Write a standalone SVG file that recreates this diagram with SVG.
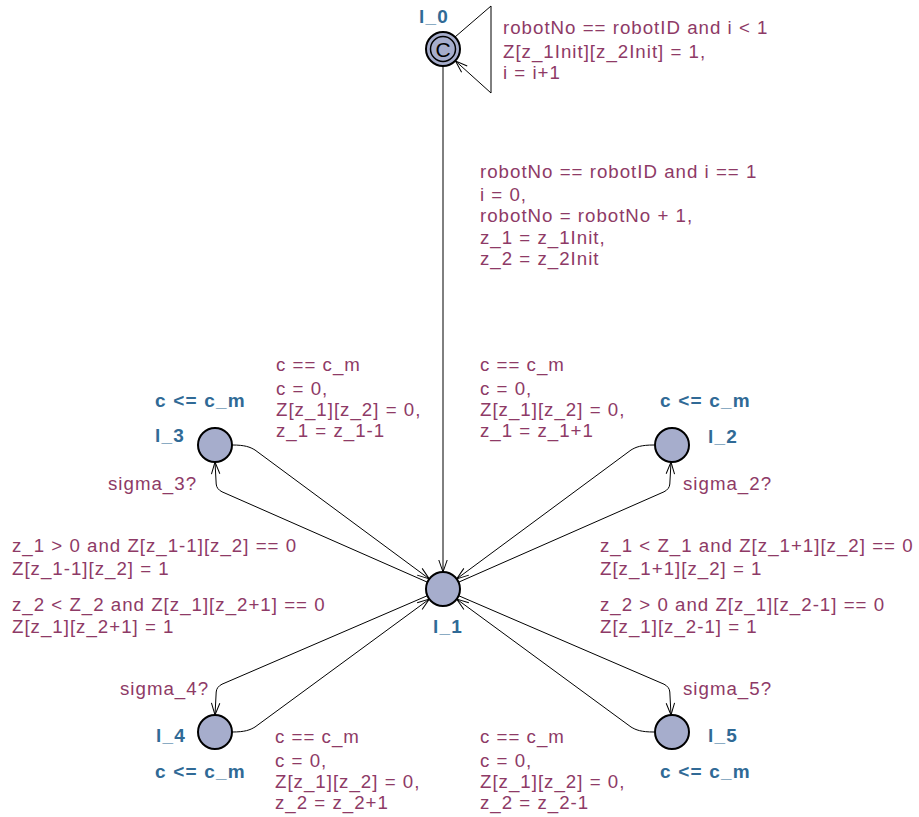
<svg xmlns="http://www.w3.org/2000/svg" width="919" height="817" viewBox="0 0 919 817">
<style>
.loc{fill:#a6adcc;stroke:#000;stroke-width:2}
.e{fill:none;stroke:#000;stroke-width:1}
.lbl{font-family:"Liberation Sans",Arial,sans-serif;font-size:18.7px;letter-spacing:1px;fill:#8e3a66}
.nm{font-family:"Liberation Sans",Arial,sans-serif;font-size:19px;font-weight:bold;letter-spacing:1.2px;fill:#306a96}
</style>
<defs>
<marker id="arr" viewBox="-13 -6 14 12" refX="0" refY="0" markerWidth="14" markerHeight="12" markerUnits="userSpaceOnUse" orient="auto">
<path d="M-12,-4.2 L0,0 L-12,4.2" fill="none" stroke="#000" stroke-width="1"/>
</marker>
</defs>
<rect width="919" height="817" fill="#fff"/>
<g id="connectors">
<path class="e" d="M455,37 L491,6 L491,93 L455.5,61" marker-end="url(#arr)"/>
<path class="e" d="M443,66 L443,572" marker-end="url(#arr)"/>
<path class="e" d="M232,445 C245,445 250,447 255,450 L429.3,578.9" marker-end="url(#arr)"/>
<path class="e" d="M427.4,582.2 L222,491.8 Q216.5,489 216.2,484 L215,462" marker-end="url(#arr)"/>
<path class="e" d="M654,445 C641,445 636,447 631,450 L456.7,578.9" marker-end="url(#arr)"/>
<path class="e" d="M458.6,582.2 L664,491.8 Q669.5,489 669.8,484 L671,462" marker-end="url(#arr)"/>
<path class="e" d="M232,732 C245,732 250,730 255,727 L429.3,599.1" marker-end="url(#arr)"/>
<path class="e" d="M427.4,595.7 L222,684.2 Q216.5,687 216.2,692 L215,715" marker-end="url(#arr)"/>
<path class="e" d="M654,732 C641,732 636,730 631,727 L456.7,599.1" marker-end="url(#arr)"/>
<path class="e" d="M458.6,595.7 L664,684.2 Q669.5,687 669.8,692 L671,715" marker-end="url(#arr)"/>
</g>
<g id="edge-labels">
<text class="lbl" x="503" y="34">robotNo == robotID and i &lt; 1</text>
<text class="lbl" x="503" y="58">Z[z_1Init][z_2Init] = 1,</text>
<text class="lbl" x="503" y="79">i = i+1</text>
<text class="lbl" x="480" y="178">robotNo == robotID and i == 1</text>
<text class="lbl" x="480" y="201">i = 0,</text>
<text class="lbl" x="480" y="222">robotNo = robotNo + 1,</text>
<text class="lbl" x="480" y="244">z_1 = z_1Init,</text>
<text class="lbl" x="480" y="265">z_2 = z_2Init</text>
<text class="lbl" x="276" y="371">c == c_m</text>
<text class="lbl" x="276" y="395">c = 0,</text>
<text class="lbl" x="276" y="416">Z[z_1][z_2] = 0,</text>
<text class="lbl" x="276" y="437">z_1 = z_1-1</text>
<text class="lbl" x="480" y="371">c == c_m</text>
<text class="lbl" x="480" y="395">c = 0,</text>
<text class="lbl" x="480" y="416">Z[z_1][z_2] = 0,</text>
<text class="lbl" x="480" y="437">z_1 = z_1+1</text>
<text class="lbl" x="108" y="490">sigma_3?</text>
<text class="lbl" x="683" y="490">sigma_2?</text>
<text class="lbl" x="12" y="552">z_1 &gt; 0 and Z[z_1-1][z_2] == 0</text>
<text class="lbl" x="12" y="575">Z[z_1-1][z_2] = 1</text>
<text class="lbl" x="12" y="611">z_2 &lt; Z_2 and Z[z_1][z_2+1] == 0</text>
<text class="lbl" x="12" y="633">Z[z_1][z_2+1] = 1</text>
<text class="lbl" x="600" y="552">z_1 &lt; Z_1 and Z[z_1+1][z_2] == 0</text>
<text class="lbl" x="600" y="575">Z[z_1+1][z_2] = 1</text>
<text class="lbl" x="600" y="611">z_2 &gt; 0 and Z[z_1][z_2-1] == 0</text>
<text class="lbl" x="600" y="633">Z[z_1][z_2-1] = 1</text>
<text class="lbl" x="120" y="695">sigma_4?</text>
<text class="lbl" x="683" y="695">sigma_5?</text>
<text class="lbl" x="275" y="743">c == c_m</text>
<text class="lbl" x="275" y="767">c = 0,</text>
<text class="lbl" x="275" y="788">Z[z_1][z_2] = 0,</text>
<text class="lbl" x="275" y="809">z_2 = z_2+1</text>
<text class="lbl" x="480" y="743">c == c_m</text>
<text class="lbl" x="480" y="767">c = 0,</text>
<text class="lbl" x="480" y="788">Z[z_1][z_2] = 0,</text>
<text class="lbl" x="480" y="809">z_2 = z_2-1</text>
</g>
<g id="l_0">
<circle class="loc" cx="443" cy="49" r="17"/>
<circle cx="443" cy="49" r="12.5" fill="none" stroke="#000" stroke-width="1.5"/>
<text x="443" y="56.5" text-anchor="middle" font-family="Liberation Sans,Arial,sans-serif" font-size="21" fill="#000">C</text>
<text class="nm" x="419" y="23">l_0</text>
</g>
<g id="l_1">
<circle class="loc" cx="443" cy="589" r="17"/>
<text class="nm" x="433" y="633">l_1</text>
</g>
<g id="l_2">
<circle class="loc" cx="672" cy="445" r="17"/>
<text class="nm" x="708" y="443">l_2</text>
<text class="nm" x="660" y="407">c &lt;= c_m</text>
</g>
<g id="l_3">
<circle class="loc" cx="215" cy="445" r="17"/>
<text class="nm" x="155" y="442">l_3</text>
<text class="nm" x="155" y="407">c &lt;= c_m</text>
</g>
<g id="l_4">
<circle class="loc" cx="215" cy="732" r="17"/>
<text class="nm" x="156" y="742">l_4</text>
<text class="nm" x="155" y="778">c &lt;= c_m</text>
</g>
<g id="l_5">
<circle class="loc" cx="672" cy="732" r="17"/>
<text class="nm" x="708" y="742">l_5</text>
<text class="nm" x="660" y="778">c &lt;= c_m</text>
</g>
</svg>
